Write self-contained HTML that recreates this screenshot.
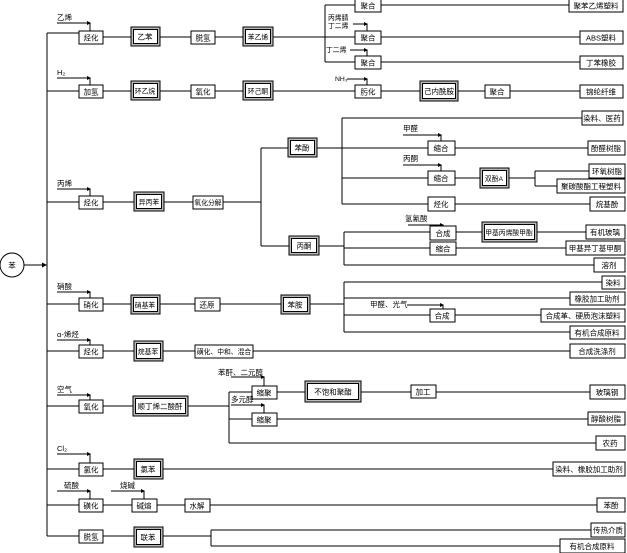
<!DOCTYPE html>
<html><head><meta charset="utf-8"><style>
body{margin:0;background:#fff}
svg{display:block}
text{font-family:"Liberation Sans","Noto Sans CJK SC",sans-serif;font-size:7.5px;fill:#000}
.s{font-size:6.8px}
.l{stroke:#000;stroke-width:1;fill:none}
.b{fill:#fff;stroke:#000;stroke-width:1}
.d{fill:#bbb;stroke:#000;stroke-width:1}
</style></head><body>
<svg width="627" height="553" viewBox="0 0 627 553" xmlns="http://www.w3.org/2000/svg">
<defs><marker id="a" markerWidth="5" markerHeight="5" refX="4" refY="2.5" orient="auto"><path d="M0,0L5,2.5L0,5z" fill="#000"/></marker></defs>
<g class="l">
<path d="M47,33V536"/>
<path d="M24,265H46" marker-end="url(#a)"/>
<path d="M47,33H79M103,37H325M325,5V62M325,5H569M325,37H580M325,62H580"/>
<path d="M47,91H580"/>
<path d="M47,202H261M261,148V246M261,148H342M261,246H344"/>
<path d="M342,118V204M342,118H582M342,148H588M342,178H480M509,178H535M535,171V186M535,171H589M535,186H557M342,204H590"/>
<path d="M344,232V265M344,232H586M344,248H566M344,265H594"/>
<path d="M47,304H344M344,282V332M344,282H602M344,298H570M344,315H541M344,332H570"/>
<path d="M47,351H570"/>
<path d="M47,406H229M229,392V443M229,392H590M229,419H588M229,443H596"/>
<path d="M47,469H553M47,505H597M47,536H211M211,530V546M211,530H591M211,546H560"/>
<path d="M57,23H90V31"/>
<path d="M57,78H90V85"/>
<path d="M57,189H90V196"/>
<path d="M57,292H90V298"/>
<path d="M57,340H90V345"/>
<path d="M57,395H90V400"/>
<path d="M57,454H90V463"/>
<path d="M57,491H90V499"/>
<path d="M111,491H144V499"/>
<path d="M353,24H367V31"/>
<path d="M350,50H367V56"/>
<path d="M347,79H367V85"/>
<path d="M403,135H441V141"/>
<path d="M403,165H441V171"/>
<path d="M408,225H443V226"/>
<path d="M407,305H443V309"/>
<path d="M231,377H264V386"/>
<path d="M231,405H264V413"/>
</g>
<g fill="#000">
<path d="M87,21L91,23L87,25z"/><path d="M87,76L91,78L87,80z"/><path d="M87,187L91,189L87,191z"/><path d="M87,290L91,292L87,294z"/><path d="M87,338L91,340L87,342z"/><path d="M87,393L91,395L87,397z"/><path d="M87,452L91,454L87,456z"/><path d="M87,489L91,491L87,493z"/><path d="M141,489L145,491L141,493z"/>
<path d="M364,22L368,24L364,26z"/><path d="M364,48L368,50L364,52z"/><path d="M364,77L368,79L364,81z"/><path d="M438,133L442,135L438,137z"/><path d="M438,163L442,165L438,167z"/><path d="M440,223L444,225L440,227z"/><path d="M440,303L444,305L440,307z"/><path d="M261,375L265,377L261,379z"/><path d="M261,403L265,405L261,407z"/>
</g>
<circle cx="12" cy="265" r="12" fill="#fff" stroke="#000"/>
<text x="12" y="268" text-anchor="middle">苯</text>
<g>
<rect class="b" x="79" y="31" width="24" height="13"/><text x="91" y="40.5" text-anchor="middle">烃化</text>
<rect class="b" x="191" y="31" width="24" height="13"/><text x="203" y="40.5" text-anchor="middle">脱氢</text>
<rect class="b" x="355" y="-1" width="26" height="13"/><text x="368" y="8.5" text-anchor="middle">聚合</text>
<rect class="b" x="355" y="31" width="26" height="13"/><text x="368" y="40.5" text-anchor="middle">聚合</text>
<rect class="b" x="355" y="56" width="26" height="13"/><text x="368" y="65.5" text-anchor="middle">聚合</text>
<rect class="b" x="569" y="-1" width="54" height="13"/><text x="596" y="8.5" text-anchor="middle">聚苯乙烯塑料</text>
<rect class="b" x="580" y="31" width="43" height="13"/><text x="601" y="40.5" text-anchor="middle">ABS塑料</text>
<rect class="b" x="580" y="56" width="43" height="13"/><text x="601" y="65.5" text-anchor="middle">丁苯橡胶</text>
<rect class="b" x="79" y="85" width="24" height="13"/><text x="91" y="94.5" text-anchor="middle">加氢</text>
<rect class="b" x="191" y="85" width="24" height="13"/><text x="203" y="94.5" text-anchor="middle">氧化</text>
<rect class="b" x="355" y="85" width="26" height="13"/><text x="368" y="94.5" text-anchor="middle">肟化</text>
<rect class="b" x="485" y="85" width="25" height="13"/><text x="497" y="94.5" text-anchor="middle">聚合</text>
<rect class="b" x="580" y="85" width="43" height="13"/><text x="601" y="94.5" text-anchor="middle">锦纶纤维</text>
<rect class="b" x="79" y="196" width="24" height="13"/><text x="91" y="205.5" text-anchor="middle">烃化</text>
<rect class="b" x="193" y="196" width="30" height="13"/><text x="208" y="205" text-anchor="middle" class="s">氧化分解</text>
<rect class="b" x="582" y="111" width="41" height="14"/><text x="602" y="121" text-anchor="middle">染料、医药</text>
<rect class="b" x="428" y="141" width="27" height="14"/><text x="441" y="151" text-anchor="middle">缩合</text>
<rect class="b" x="588" y="141" width="37" height="14"/><text x="606" y="151" text-anchor="middle">酚醛树脂</text>
<rect class="b" x="428" y="171" width="27" height="14"/><text x="441" y="181" text-anchor="middle">缩合</text>
<rect class="b" x="589" y="164" width="36" height="14"/><text x="607" y="174" text-anchor="middle">环氧树脂</text>
<rect class="b" x="557" y="179" width="68" height="14"/><text x="591" y="189" text-anchor="middle">聚碳酸酯工程塑料</text>
<rect class="b" x="428" y="197" width="27" height="14"/><text x="441" y="207" text-anchor="middle">烃化</text>
<rect class="b" x="590" y="197" width="35" height="14"/><text x="607" y="207" text-anchor="middle">烷基酚</text>
<rect class="b" x="430" y="226" width="26" height="14"/><text x="443" y="236" text-anchor="middle">合成</text>
<rect class="b" x="586" y="225" width="39" height="14"/><text x="605" y="235" text-anchor="middle">有机玻璃</text>
<rect class="b" x="430" y="242" width="26" height="13"/><text x="443" y="251.5" text-anchor="middle">缩合</text>
<rect class="b" x="566" y="241" width="59" height="14"/><text x="595" y="251" text-anchor="middle">甲基异丁基甲酮</text>
<rect class="b" x="594" y="258" width="31" height="14"/><text x="609" y="268" text-anchor="middle">溶剂</text>
<rect class="b" x="79" y="298" width="24" height="13"/><text x="91" y="307.5" text-anchor="middle">硝化</text>
<rect class="b" x="195" y="298" width="25" height="13"/><text x="207" y="307.5" text-anchor="middle">还原</text>
<rect class="b" x="602" y="276" width="23" height="13"/><text x="613" y="285.5" text-anchor="middle">染料</text>
<rect class="b" x="570" y="292" width="55" height="13"/><text x="597" y="301.5" text-anchor="middle">橡胶加工助剂</text>
<rect class="b" x="430" y="309" width="25" height="13"/><text x="442" y="318.5" text-anchor="middle">合成</text>
<rect class="b" x="541" y="309" width="84" height="13"/><text x="583" y="318.5" text-anchor="middle">合成革、硬质泡沫塑料</text>
<rect class="b" x="570" y="326" width="55" height="13"/><text x="597" y="335.5" text-anchor="middle">有机合成原料</text>
<rect class="b" x="79" y="345" width="24" height="13"/><text x="91" y="354.5" text-anchor="middle">烃化</text>
<rect class="b" x="195" y="345" width="58" height="13"/><text x="224" y="354" text-anchor="middle" class="s">磺化、中和、混合</text>
<rect class="b" x="570" y="344" width="55" height="14"/><text x="597" y="354" text-anchor="middle">合成洗涤剂</text>
<rect class="b" x="79" y="400" width="24" height="13"/><text x="91" y="409.5" text-anchor="middle">氧化</text>
<rect class="b" x="252" y="386" width="25" height="13"/><text x="264" y="395.5" text-anchor="middle">缩聚</text>
<rect class="b" x="411" y="385" width="25" height="13"/><text x="423" y="394.5" text-anchor="middle">加工</text>
<rect class="b" x="590" y="385" width="35" height="14"/><text x="607" y="395" text-anchor="middle">玻璃钢</text>
<rect class="b" x="252" y="413" width="25" height="13"/><text x="264" y="422.5" text-anchor="middle">缩聚</text>
<rect class="b" x="588" y="412" width="37" height="13"/><text x="606" y="421.5" text-anchor="middle">醇酸树脂</text>
<rect class="b" x="596" y="436" width="29" height="14"/><text x="610" y="446" text-anchor="middle">农药</text>
<rect class="b" x="79" y="463" width="24" height="13"/><text x="91" y="472.5" text-anchor="middle">氯化</text>
<rect class="b" x="553" y="462" width="72" height="14"/><text x="589" y="472" text-anchor="middle">染料、橡胶加工助剂</text>
<rect class="b" x="79" y="499" width="24" height="13"/><text x="91" y="508.5" text-anchor="middle">磺化</text>
<rect class="b" x="132" y="499" width="25" height="13"/><text x="144" y="508.5" text-anchor="middle">碱熔</text>
<rect class="b" x="185" y="499" width="25" height="13"/><text x="197" y="508.5" text-anchor="middle">水解</text>
<rect class="b" x="597" y="498" width="28" height="14"/><text x="611" y="508" text-anchor="middle">苯酚</text>
<rect class="b" x="79" y="530" width="24" height="13"/><text x="91" y="539.5" text-anchor="middle">脱氢</text>
<rect class="b" x="591" y="523" width="34" height="14"/><text x="608" y="533" text-anchor="middle">传热介质</text>
<rect class="b" x="560" y="539" width="65" height="14"/><text x="592" y="549" text-anchor="middle">有机合成原料</text>
</g>
<g>
<rect class="d" x="131" y="27" width="29" height="19"/><rect class="b" x="133.5" y="29.5" width="24" height="14"/><text x="145" y="39.5" text-anchor="middle">乙苯</text>
<rect class="d" x="243" y="27" width="30" height="19"/><rect class="b" x="245.5" y="29.5" width="25" height="14"/><text x="258" y="39.5" text-anchor="middle" class="s">苯乙烯</text>
<rect class="d" x="131" y="81" width="29" height="19"/><rect class="b" x="133.5" y="83.5" width="24" height="14"/><text x="145" y="93.5" text-anchor="middle" class="s">环乙烷</text>
<rect class="d" x="243" y="81" width="30" height="19"/><rect class="b" x="245.5" y="83.5" width="25" height="14"/><text x="258" y="93.5" text-anchor="middle" class="s">环己酮</text>
<rect class="d" x="420" y="81" width="38" height="20"/><rect class="b" x="422.5" y="83.5" width="33" height="15"/><text x="439" y="94" text-anchor="middle">己内酰胺</text>
<rect class="d" x="134" y="192" width="30" height="19"/><rect class="b" x="136.5" y="194.5" width="25" height="14"/><text x="149" y="204.5" text-anchor="middle" class="s">异丙苯</text>
<rect class="d" x="288" y="138" width="29" height="19"/><rect class="b" x="290.5" y="140.5" width="24" height="14"/><text x="302" y="150.5" text-anchor="middle">苯酚</text>
<rect class="d" x="289" y="236" width="30" height="19"/><rect class="b" x="291.5" y="238.5" width="25" height="14"/><text x="304" y="248.5" text-anchor="middle">丙酮</text>
<rect class="d" x="480" y="168" width="29" height="20"/><rect class="b" x="482.5" y="170.5" width="24" height="15"/><text x="494" y="181" text-anchor="middle" class="s">双酚A</text>
<rect class="d" x="482" y="222" width="55" height="20"/><rect class="b" x="484.5" y="224.5" width="50" height="15"/><text x="509" y="235" text-anchor="middle" class="s">甲基丙烯酸甲酯</text>
<rect class="d" x="131" y="295" width="29" height="19"/><rect class="b" x="133.5" y="297.5" width="24" height="14"/><text x="145" y="307.5" text-anchor="middle" class="s">硝基苯</text>
<rect class="d" x="281" y="295" width="29" height="19"/><rect class="b" x="283.5" y="297.5" width="24" height="14"/><text x="295" y="307.5" text-anchor="middle">苯胺</text>
<rect class="d" x="134" y="341" width="29" height="20"/><rect class="b" x="136.5" y="343.5" width="24" height="15"/><text x="148" y="354" text-anchor="middle" class="s">烷基苯</text>
<rect class="d" x="133" y="396" width="55" height="20"/><rect class="b" x="135.5" y="398.5" width="50" height="15"/><text x="160" y="409" text-anchor="middle">顺丁烯二酸酐</text>
<rect class="d" x="305" y="381" width="56" height="21"/><rect class="b" x="307.5" y="383.5" width="51" height="16"/><text x="333" y="394.5" text-anchor="middle">不饱和聚酯</text>
<rect class="d" x="134" y="459" width="29" height="20"/><rect class="b" x="136.5" y="461.5" width="24" height="15"/><text x="148" y="472" text-anchor="middle">氯苯</text>
<rect class="d" x="134" y="527" width="29" height="20"/><rect class="b" x="136.5" y="529.5" width="24" height="15"/><text x="148" y="540" text-anchor="middle">联苯</text>
</g>
<g>
<text x="57" y="20">乙烯</text>
<text x="57" y="75">H₂</text>
<text x="57" y="186">丙烯</text>
<text x="57" y="289">硝酸</text>
<text x="57" y="337">α-烯烃</text>
<text x="57" y="392">空气</text>
<text x="57" y="451">Cl₂</text>
<text x="64" y="488">硫酸</text>
<text x="120" y="488">烧碱</text>
<text x="328" y="20" class="s">丙烯腈</text>
<text x="328" y="28" class="s">丁二烯</text>
<text x="326" y="52" class="s">丁二烯</text>
<text x="335" y="81" class="s">NH₃</text>
<text x="403" y="131">甲醛</text>
<text x="403" y="161">丙酮</text>
<text x="405" y="221">氢氰酸</text>
<text x="370" y="307">甲醛、光气</text>
<text x="218" y="375">苯酐、二元醇</text>
<text x="231" y="402">多元醇</text>
</g>
</svg>
</body></html>
